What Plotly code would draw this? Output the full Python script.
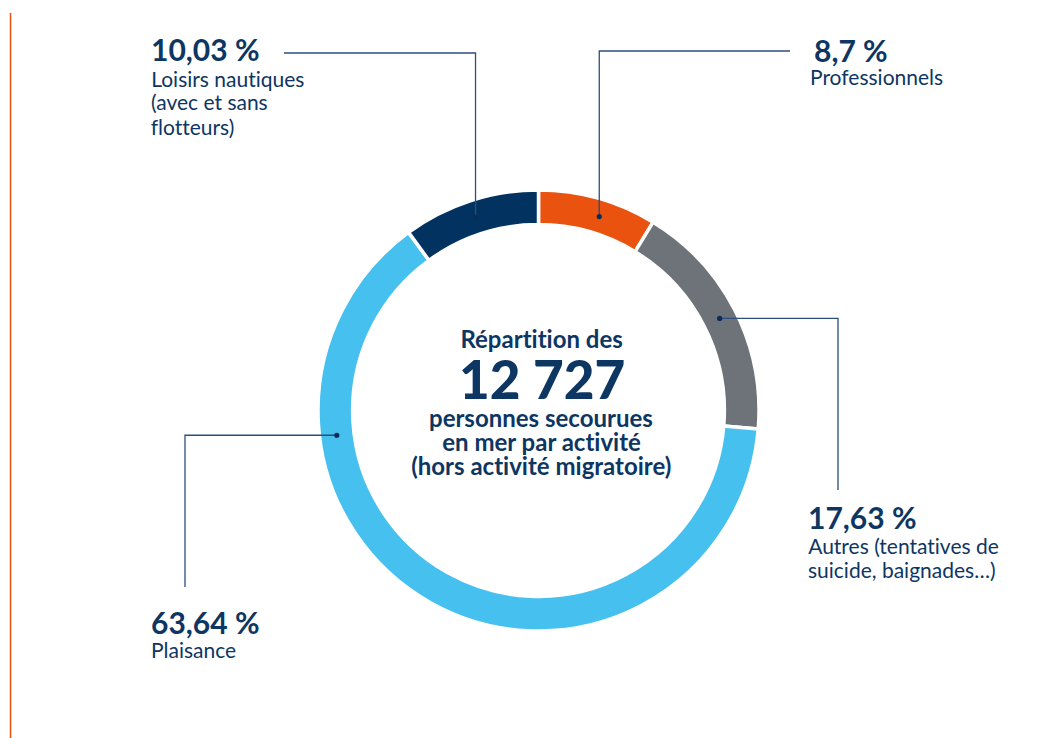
import math
import plotly.graph_objects as go

# ---------------- data ----------------
categories = ["Professionnels", "Autres", "Plaisance", "Loisirs nautiques"]
shares = [8.7, 17.63, 63.64, 10.03]
pct_labels = ["8,7 %", "17,63 %", "63,64 %", "10,03 %"]
label_lines = [
    ["Professionnels"],
    ["Autres (tentatives de", "suicide, baignades…)"],
    ["Plaisance"],
    ["Loisirs nautiques", "(avec et sans", "flotteurs)"],
]
total_people = "12 727"
center_lines_top = ["Répartition des"]
center_lines_bottom = ["personnes secourues", "en mer par activité", "(hors activité migratoire)"]

# ---------------- style / layout ----------------
W, H = 1058, 738
NAVY_TXT = "#0d3663"
LEADER = "#2b4f7a"
colors = ["#e9520f", "#6e7279", "#45c0ef", "#02325f"]
FONT = "Lato"

CX, CY, R = 538.5, 410.5, 220.5
HOLE = 0.843


def px(x):
    return x / W


def py(y):
    return 1 - y / H


fig = go.Figure(
    go.Pie(
        labels=categories,
        values=shares,
        sort=False,
        direction="clockwise",
        rotation=0,
        hole=HOLE,
        marker=dict(colors=colors, line=dict(color="white", width=3.5)),
        textinfo="none",
        hoverinfo="label+percent",
        showlegend=False,
        domain=dict(x=[px(CX - R), px(CX + R)], y=[py(CY + R), py(CY - R)]),
    )
)

# anchor angles of leader dots (degrees clockwise from 12 o'clock)
tot = sum(shares)
cum = 0
mid_angles = []
for s in shares:
    mid_angles.append((cum + s / 2) / tot * 360)
    cum += s
anchor_override = {0: 17.4, 2: 263.0}
r_dot = R * (1 + HOLE) / 2

# leader geometry (layout): (mode, level, end)
leaders = [
    ("v", 51, 790),
    ("h", 838, 490),
    ("h", 185, 587),
    ("v", 53, 284),
]

shapes = [
    dict(type="line", xref="paper", yref="paper", x0=px(10.5), x1=px(10.5),
         y0=py(13), y1=py(738), line=dict(color="#e9520f", width=1.5))
]
for i, (mode, level, end) in enumerate(leaders):
    ang = math.radians(anchor_override.get(i, mid_angles[i]))
    dx = CX + r_dot * math.sin(ang)
    dy = CY - r_dot * math.cos(ang)
    if mode == "v":
        pts = [(dx, dy), (dx, level), (end, level)]
    else:
        pts = [(dx, dy), (level, dy), (level, end)]
    path = "M " + " L ".join(f"{px(a):.5f},{py(b):.5f}" for a, b in pts)
    shapes.append(dict(type="path", xref="paper", yref="paper", path=path,
                       line=dict(color=LEADER, width=1.3)))
    rr = 2.6
    shapes.append(dict(type="circle", xref="paper", yref="paper",
                       x0=px(dx - rr), x1=px(dx + rr), y0=py(dy + rr), y1=py(dy - rr),
                       fillcolor="#0b2d55", line=dict(width=0)))

annotations = []


def add_text(text, x, y, size, weight, anchor="left"):
    annotations.append(dict(
        text=text, x=px(x), y=py(y), xref="paper", yref="paper",
        xanchor=anchor, yanchor="middle", showarrow=False, borderpad=0,
        font=dict(family=FONT, size=size, color=NAVY_TXT, weight=weight),
    ))


label_pos = [
    (809, 50, 77, 24),
    (807, 516.5, 545, 24),
    (150, 621.5, 649.5, 24),
    (150, 49, 78, 24),
]
pct_dx = [4, 0, 0, 0]
for i, (x, ypct, y0, step) in enumerate(label_pos):
    add_text(pct_labels[i], x + pct_dx[i], ypct, 30, 700)
    for j, line in enumerate(label_lines[i]):
        add_text(line, x, y0 + j * step, 21, 400)

# center text
add_text(center_lines_top[0], 541, 338.5, 24, 700, "center")
add_text(total_people, 542, 378, 53, 900, "center")
for j, line in enumerate(center_lines_bottom):
    add_text(line, 541, 417.5 + j * 24, 24, 700, "center")

fig.update_layout(
    width=W, height=H,
    margin=dict(l=0, r=0, t=0, b=0),
    paper_bgcolor="white", plot_bgcolor="white",
    shapes=shapes, annotations=annotations,
    font=dict(family=FONT),
)

post = (
    "document.body.style.margin='0';document.body.style.overflow='hidden';"
    "var s=document.createElement('style');"
    "s.textContent='text{font-variant-ligatures:none !important;font-feature-settings:\"liga\" 0 !important;}';"
    "document.head.appendChild(s);"
)
fig.write_html("out.html", post_script=post, config={"displayModeBar": False})
